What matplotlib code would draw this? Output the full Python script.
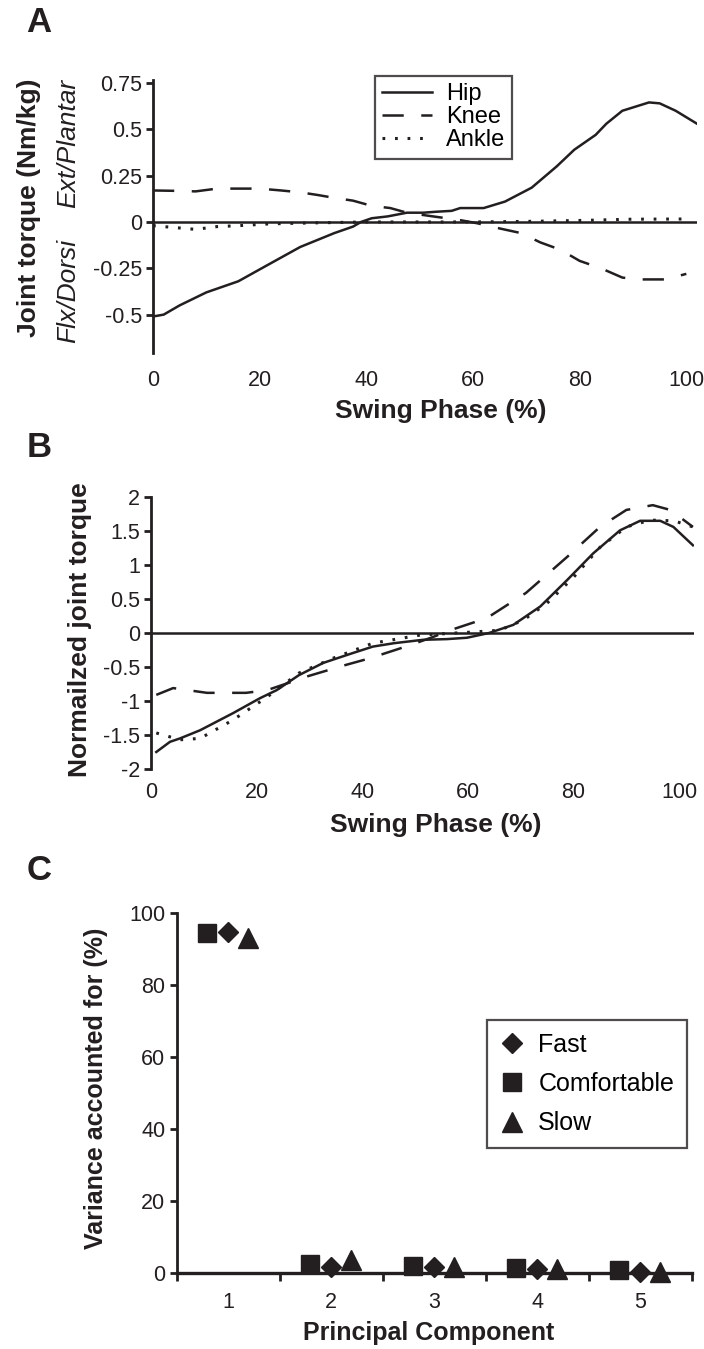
import matplotlib
matplotlib.use('Agg')
import matplotlib.pyplot as plt
import numpy as np

plt.rcParams['font.family'] = ['Liberation Sans', 'DejaVu Sans']
ink = '#231f20'

# 패널 A : 관절 토크 (Nm/kg)
a_hip_x = [0, 2, 5, 10, 16, 21, 27.6, 34, 37.5, 39, 41, 44, 47.6, 50.7, 53, 56, 57.6, 62, 66, 71, 75.7, 79, 83, 85, 88, 93, 95, 98, 102]
a_hip_y = [-0.51, -0.50, -0.45, -0.38, -0.32, -0.24, -0.135, -0.06, -0.025, 0.0, 0.02, 0.03, 0.05, 0.05, 0.055, 0.06, 0.075, 0.075, 0.11, 0.185, 0.30, 0.39, 0.47, 0.53, 0.60, 0.645, 0.64, 0.60, 0.53]
a_knee_x = [0, 4, 8, 12, 16, 20, 24, 27.6, 31, 34, 37.5, 41, 44.5, 47.6, 52.5, 57.6, 60.8, 65, 69, 72.6, 76.4, 80, 84, 88, 91, 96, 100]
a_knee_y = [0.17, 0.168, 0.165, 0.18, 0.18, 0.18, 0.17, 0.16, 0.145, 0.13, 0.115, 0.087, 0.075, 0.05, 0.03, 0.01, -0.007, -0.035, -0.06, -0.11, -0.15, -0.21, -0.25, -0.30, -0.31, -0.31, -0.28]
a_ankle_x = [0, 4, 8, 12, 16, 22, 30, 40, 50, 60, 70, 80, 90, 100]
a_ankle_y = [-0.02, -0.03, -0.04, -0.025, -0.02, -0.01, -0.005, 0, 0, 0, 0.003, 0.008, 0.015, 0.016]

# 패널 B : 정규화된 관절 토크
b_hip_x = [1, 3.6, 5.5, 9.3, 15.5, 20.6, 23.8, 28, 32.6, 38, 42, 46, 51.5, 56, 59.8, 64, 68.6, 73.7, 78.8, 83.7, 88.8, 92.6, 96.4, 98.9, 102.6]
b_hip_y = [-1.75, -1.60, -1.55, -1.43, -1.18, -0.96, -0.84, -0.62, -0.44, -0.30, -0.20, -0.15, -0.10, -0.09, -0.07, 0.0, 0.12, 0.39, 0.78, 1.17, 1.51, 1.65, 1.65, 1.56, 1.29]
b_knee_x = [1, 4.2, 10.6, 18, 22, 25.8, 29.5, 36.4, 41.5, 49, 53, 57, 63.6, 71, 78.8, 85, 90, 95, 98.3, 102.6]
b_knee_y = [-0.91, -0.81, -0.88, -0.88, -0.84, -0.74, -0.64, -0.48, -0.37, -0.18, -0.07, 0.05, 0.22, 0.59, 1.12, 1.56, 1.81, 1.88, 1.81, 1.56]
b_ankle_x = [1, 5.5, 9.3, 15.5, 22, 28, 34.5, 42, 51, 60, 66, 70.5, 75, 80, 85, 90, 94.5, 99, 102.6]
b_ankle_y = [-1.47, -1.57, -1.55, -1.28, -0.94, -0.59, -0.37, -0.15, -0.03, 0.01, 0.04, 0.19, 0.44, 0.82, 1.26, 1.56, 1.66, 1.65, 1.56]

# 패널 C : 주성분별 설명 분산
components = [1, 2, 3, 4, 5]
fast = [94.7, 1.7, 1.7, 1.1, 0.4]
comfortable = [94.4, 2.5, 1.9, 1.3, 0.7]
slow = [93.1, 3.6, 1.6, 1.0, 0.3]

fig = plt.figure(figsize=(7.04, 13.49), dpi=100)

tick_fs = 15.5
label_fs = 19
lw = 1.8
knee_dash = (8.5, 7)
ankle_dash = (0.9, 3.2)


def style_line_axes(ax, xpad):
    for s in ['top', 'right', 'bottom']:
        ax.spines[s].set_visible(False)
    ax.spines['left'].set_linewidth(2.0)
    ax.spines['left'].set_color(ink)
    ax.tick_params(axis='y', direction='out', length=5, width=2.0, colors=ink, labelsize=tick_fs, pad=3)
    ax.tick_params(axis='x', length=0, labelsize=tick_fs, colors=ink, pad=xpad)
    ax.axhline(0, color=ink, lw=1.8, zorder=1)
    ax.set_xticks([0, 20, 40, 60, 80, 100])
    ax.set_xticklabels(['0', '20', '40', '60', '80', '100'])


# ---- A ----
axA = fig.add_axes([153 / 704, 1 - 353 / 1349, 544 / 704, 273 / 1349])
axA.plot(a_hip_x, a_hip_y, color=ink, lw=lw, label='Hip')
axA.plot(a_knee_x, a_knee_y, color=ink, lw=lw, dashes=knee_dash, label='Knee')
axA.plot(a_ankle_x, a_ankle_y, color=ink, lw=2.2, dashes=ankle_dash, label='Ankle')
axA.set_xlim(0, 102)
axA.set_ylim(-0.707, 0.766)
axA.set_yticks([0.75, 0.5, 0.25, 0, -0.25, -0.5])
axA.set_yticklabels(['0.75', '0.5', '0.25', '0', '-0.25', '-0.5'])
style_line_axes(axA, 12)
legA = axA.legend(loc='upper left', bbox_to_anchor=(375 / 704, 1 - 76 / 1349), bbox_transform=fig.transFigure,
                  fontsize=17, frameon=True, fancybox=False, borderaxespad=0, labelspacing=0.05,
                  handlelength=2.1, handletextpad=0.6, borderpad=0.3)
legA.get_frame().set_edgecolor(ink)
legA.get_frame().set_linewidth(1.6)

fig.text(39 / 704, 1 - 22 / 1349, 'A', fontsize=25, fontweight='bold', color=ink, ha='center', va='center')
fig.text(29 / 704, 1 - 208 / 1349, 'Joint torque (Nm/kg)', fontsize=label_fs, fontweight='bold',
         rotation=90, ha='center', va='center', color=ink)
fig.text(68 / 704, 1 - 143 / 1349, 'Ext/Plantar', fontsize=label_fs, style='italic',
         rotation=90, ha='center', va='center', color=ink)
fig.text(68 / 704, 1 - 291 / 1349, 'Flx/Dorsi', fontsize=label_fs, style='italic',
         rotation=90, ha='center', va='center', color=ink)
fig.text(441 / 704, 1 - 411 / 1349, 'Swing Phase (%)', fontsize=label_fs, fontweight='bold',
         ha='center', va='center', color=ink)

# ---- B ----
axB = fig.add_axes([151 / 704, 1 - 769 / 1349, 543 / 704, 272 / 1349])
axB.plot(b_hip_x, b_hip_y, color=ink, lw=lw)
axB.plot(b_knee_x, b_knee_y, color=ink, lw=lw, dashes=knee_dash)
axB.plot(b_ankle_x, b_ankle_y, color=ink, lw=2.2, dashes=ankle_dash)
axB.set_xlim(0, 102.8)
axB.set_ylim(-2, 2)
axB.set_yticks([2, 1.5, 1, 0.5, 0, -0.5, -1, -1.5, -2])
axB.set_yticklabels(['2', '1.5', '1', '0.5', '0', '-0.5', '-1', '-1.5', '-2'])
style_line_axes(axB, 9)

fig.text(39.5 / 704, 1 - 448 / 1349, 'B', fontsize=25, fontweight='bold', color=ink, ha='center', va='center')
fig.text(80 / 704, 1 - 630 / 1349, 'Normailzed joint torque', fontsize=label_fs, fontweight='bold',
         rotation=90, ha='center', va='center', color=ink)
fig.text(436 / 704, 1 - 825 / 1349, 'Swing Phase (%)', fontsize=label_fs, fontweight='bold',
         ha='center', va='center', color=ink)

# ---- C ----
axC = fig.add_axes([176.5 / 704, 1 - 1273 / 1349, 515 / 704, 360 / 1349])
pos = np.array(components)
axC.plot(pos, fast, ls='none', marker='D', ms=10.2, color=ink, label='Fast', clip_on=False, zorder=3)
axC.plot(pos - 0.2, comfortable, ls='none', marker='s', ms=12.5, color=ink, label='Comfortable', clip_on=False, zorder=3)
axC.plot(pos + 0.19, slow, ls='none', marker='^', ms=15, color=ink, label='Slow', clip_on=False, zorder=3)
axC.set_xlim(0.5, 5.5)
axC.set_ylim(0, 100)
axC.set_yticks([0, 20, 40, 60, 80, 100])
axC.set_xticks(components)
axC.set_xticklabels([str(c) for c in components])
axC.set_xticks(np.arange(0.5, 6, 1), minor=True)
for s in ['top', 'right']:
    axC.spines[s].set_visible(False)
axC.spines['left'].set_linewidth(2.0)
axC.spines['bottom'].set_linewidth(2.4)
axC.spines['left'].set_color(ink)
axC.spines['bottom'].set_color(ink)
axC.tick_params(axis='y', direction='out', length=5, width=2.0, colors=ink, labelsize=tick_fs, pad=3)
axC.tick_params(axis='x', which='major', length=0, colors=ink, labelsize=tick_fs, pad=14)
axC.tick_params(axis='x', which='minor', direction='out', length=6, width=2.0, color=ink)
legC = axC.legend(loc='upper left', bbox_to_anchor=(487 / 704, 1 - 1020 / 1349), bbox_transform=fig.transFigure,
                  fontsize=18, frameon=True, fancybox=False, borderaxespad=0, labelspacing=0.62,
                  handlelength=1.0, handletextpad=0.55, borderpad=0.5, markerscale=1.0)
legC.get_frame().set_edgecolor(ink)
legC.get_frame().set_linewidth(1.6)

fig.text(39.5 / 704, 1 - 871 / 1349, 'C', fontsize=25, fontweight='bold', color=ink, ha='center', va='center')
fig.text(96.5 / 704, 1 - 1088 / 1349, 'Variance accounted for (%)', fontsize=18, fontweight='bold',
         rotation=90, ha='center', va='center', color=ink)
fig.text(428.5 / 704, 1 - 1333 / 1349, 'Principal Component', fontsize=18, fontweight='bold',
         ha='center', va='center', color=ink)

plt.savefig('out.png', dpi=100, facecolor='white')
plt.close()
